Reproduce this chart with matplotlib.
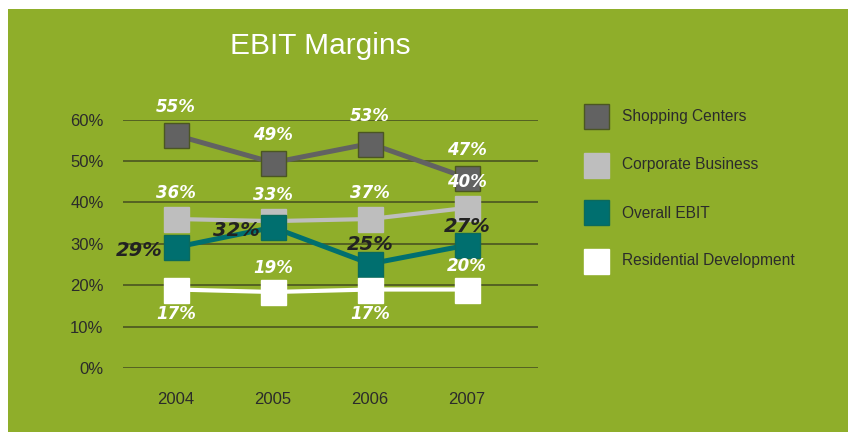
import matplotlib
matplotlib.use("Agg")
import matplotlib.pyplot as plt
from matplotlib.patches import Rectangle
from matplotlib.ticker import FuncFormatter

years = ["2004", "2005", "2006", "2007"]
series_names = ["Shopping Centers", "Corporate Business", "Overall EBIT", "Residential Development"]

# marker positions (fraction)
shopping = [0.562, 0.496, 0.542, 0.459]
corporate = [0.360, 0.355, 0.360, 0.387]
overall = [0.292, 0.340, 0.252, 0.297]
residential = [0.190, 0.184, 0.190, 0.190]

# data labels as printed
shopping_labels = ["55%", "49%", "53%", "47%"]
corporate_labels = ["36%", "33%", "37%", "40%"]
overall_labels = ["29%", "32%", "25%", "27%"]
residential_labels = ["17%", "19%", "17%", "20%"]

yticks = [0, 0.1, 0.2, 0.3, 0.4, 0.5, 0.6]

GREEN = "#8fae2a"
GRID = "#4f5b22"
TEXT = "#2b2b2b"

fig = plt.figure(figsize=(8.48, 4.32), dpi=100)
fig.patch.set_facecolor("white")
fig.add_artist(Rectangle((8 / 848, 0), 1 - 8 / 848, (432 - 9) / 432,
                         transform=fig.transFigure, facecolor=GREEN,
                         edgecolor="none", zorder=-10))

ax = fig.add_axes([123 / 848, 63.7 / 432, 415 / 848, 248.8 / 432])
ax.set_facecolor("none")
x = list(range(len(years)))
ax.set_xlim(-0.546, 3.73)
ax.set_ylim(0, 0.6)
for s in ax.spines.values():
    s.set_visible(False)
ax.set_yticks(yticks)
ax.yaxis.set_major_formatter(FuncFormatter(lambda v, p: f"{v*100:.0f}%"))
ax.set_xticks(x)
ax.set_xticklabels(years)
ax.tick_params(length=0, labelsize=12, labelcolor=TEXT)
ax.tick_params(axis="y", pad=14)
ax.tick_params(axis="x", pad=17)
for lab in ax.get_xticklabels() + ax.get_yticklabels():
    lab.set_fontfamily("Liberation Sans")
ax.grid(axis="y", color=GRID, linewidth=1.3)
ax.set_axisbelow(True)

styles = [
    dict(vals=shopping, labels=shopping_labels, color="#626262", edge="#4b5622",
         lw=3.6, lcol="white", fs=12, z=3, pos=["above"] * 4, d=28),
    dict(vals=corporate, labels=corporate_labels, color="#bebebe", edge="#bebebe",
         lw=3.0, lcol="white", fs=12, z=4, pos=["above"] * 4, d=26),
    dict(vals=overall, labels=overall_labels, color="#006f6f", edge="#0b6a5c",
         lw=3.6, lcol="#222222", fs=14, z=5, pos=["left", "left", "above", "above"], d=19),
    dict(vals=residential, labels=residential_labels, color="#ffffff", edge="#ffffff",
         lw=3.0, lcol="white", fs=12, z=6, pos=["below", "above", "below", "above"], d=24),
]

for st in styles:
    ax.plot(x, st["vals"], color=st["color"], lw=st["lw"], marker="s",
            markersize=18, markerfacecolor=st["color"],
            markeredgecolor=st["edge"], markeredgewidth=1.0,
            zorder=st["z"], clip_on=False)
    for xi, v, lab, p in zip(x, st["vals"], st["labels"], st["pos"]):
        if p == "above":
            off = (0, st["d"])
        elif p == "below":
            off = (0, -st["d"])
        else:
            off = (-37, -3)
        ax.annotate(lab, (xi, v), xytext=off, textcoords="offset pixels",
                    ha="center", va="center", color=st["lcol"], fontsize=st["fs"],
                    fontweight="bold", fontstyle="italic", family="DejaVu Sans",
                    zorder=st["z"] + 10, annotation_clip=False)

# title
fig.text(320 / 848, 1 - 46 / 432, "EBIT Margins", color="white", fontsize=21.5,
         ha="center", va="center", family="Liberation Sans")

# legend
leg_y = [116.7, 165, 213, 261]
for st, name, yy in zip(styles, series_names, leg_y):
    fig.add_artist(Rectangle((584 / 848, 1 - (yy + 12.5) / 432), 25 / 848, 25 / 432,
                             transform=fig.transFigure, facecolor=st["color"],
                             edgecolor=st["edge"], linewidth=1.0))
    fig.text(622 / 848, 1 - yy / 432, name, color=TEXT, fontsize=11.2,
             ha="left", va="center", family="Liberation Sans")

fig.savefig("out.png", dpi=100, facecolor=fig.get_facecolor())
